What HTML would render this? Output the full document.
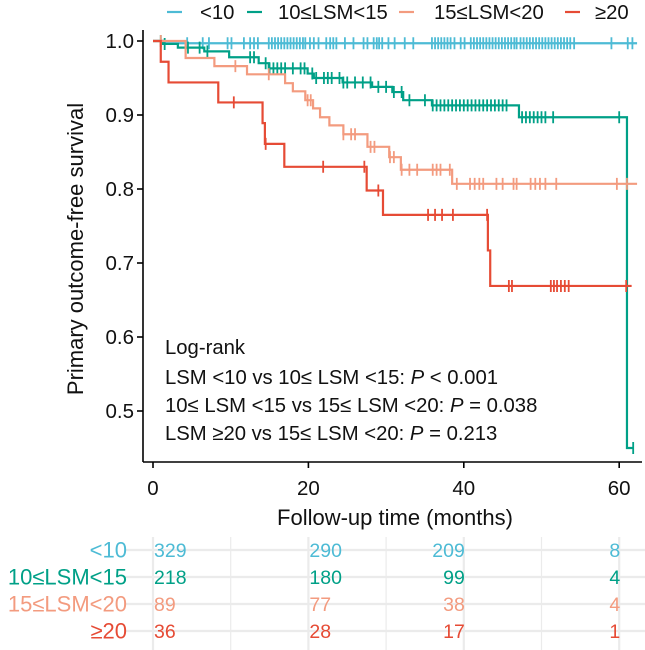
<!DOCTYPE html>
<html><head><meta charset="utf-8">
<style>
html,body{margin:0;padding:0;background:#fff;}
svg{display:block;font-family:"Liberation Sans",Arial,sans-serif;}
</style></head>
<body>
<svg id="chart" width="645" height="650" viewBox="0 0 645 650" xmlns="http://www.w3.org/2000/svg">
</svg>
<script>
// ---- data ----
const groupNames = ["<10", "10≤LSM<15", "15≤LSM<20", "≥20"];
const groupColors = ["#4DBBD5", "#00A087", "#F39B7F", "#E64B35"];
const xTicks = [0, 20, 40, 60];
const yTicks = [0.5, 0.6, 0.7, 0.8, 0.9, 1.0];
const yTickLabels = ["0.5", "0.6", "0.7", "0.8", "0.9", "1.0"];

const blueTimes = [0, 1.5];
const blueSurv = [1.0, 0.997];
const blueEnd = 62.3;
const blueCensor = [4.4,6.4,7.2,9.6,10.1,11.7,12.5,13.0,13.5,14.9,15.3,15.7,16.1,16.5,16.9,17.3,17.7,18.1,18.5,18.9,19.3,19.6,20.2,20.7,21.3,22.3,22.8,23.2,23.6,24.7,25.8,27.1,27.6,28.4,28.8,29.1,29.5,30.3,31.1,32.4,33.5,35.9,36.3,36.7,37.1,37.5,37.9,38.3,38.8,39.6,40.1,40.9,41.3,41.7,42.1,42.5,42.9,43.3,43.7,44.1,44.5,44.9,45.3,45.7,46.1,46.5,46.8,47.3,47.7,48.1,48.5,48.9,49.3,49.7,50.1,50.5,50.9,51.3,51.7,52.1,52.5,52.9,53.3,53.7,54.2,59.0,61.1,61.7];

const greenTimes = [0, 1.3, 3.2, 6.6, 9.8, 13.6, 14.9, 19.9, 20.7, 24.4, 28.2, 30.8, 32.2, 35.9, 47.1, 61.0];
const greenSurv = [1.0, 0.996, 0.991, 0.986, 0.978, 0.970, 0.963, 0.956, 0.950, 0.944, 0.938, 0.931, 0.920, 0.913, 0.897, 0.450];
const greenEnd = 61.8;
const greenCensor = [1.0,1.5,4.5,6.0,7.0,12.5,13.0,14.5,15.0,15.5,16.0,16.5,17.0,18.0,19.0,19.5,20.5,21.0,22.0,22.5,23.0,24.0,24.5,25.0,26.0,27.0,28.0,29.0,30.0,31.0,32.0,33.0,35.0,36.0,36.5,37.0,37.5,38.0,38.5,39.0,39.5,40.0,40.5,41.0,41.5,42.0,42.5,43.0,43.5,44.0,44.5,45.0,45.5,47.5,48.0,48.5,49.0,49.5,50.0,50.5,51.5,60.0,61.8];

const salmonTimes = [0, 4.2, 7.9, 12.1, 17.0, 18.0, 19.6, 20.6, 21.5, 22.7, 24.5, 27.6, 30.4, 31.9, 38.5];
const salmonSurv = [1.0, 0.977, 0.966, 0.955, 0.943, 0.932, 0.920, 0.909, 0.897, 0.886, 0.874, 0.857, 0.843, 0.826, 0.807];
const salmonEnd = 62.3;
const salmonCensor = [1.0,10.6,14.9,19.9,20.3,24.5,25.5,26.0,28.0,28.5,30.5,31.0,32.0,33.0,34.0,36.0,36.5,37.0,38.2,39.1,40.8,41.4,42.0,42.5,44.2,45.0,46.4,46.8,48.6,49.2,49.8,50.5,51.9,59.7,61.0];

const redTimes = [0, 1.0, 2.0, 8.4, 14.1, 14.4, 16.9, 27.5, 29.6, 43.1, 43.4];
const redSurv = [1.0, 0.972, 0.944, 0.917, 0.889, 0.861, 0.830, 0.798, 0.765, 0.717, 0.669];
const redEnd = 61.6;
const redCensor = [10.4,14.5,21.9,27.2,29.0,35.4,36.3,37.2,38.6,43.0,45.8,46.2,51.2,51.6,52.0,52.5,53.0,53.5,60.9];

const riskTimes = [0, 20, 40, 60];
const riskBlue = [329, 290, 209, 8];
const riskGreen = [218, 180, 99, 4];
const riskSalmon = [89, 77, 38, 4];
const riskRed = [36, 28, 17, 1];

// ---- scales ----
const X0 = 153, XPM = 7.77;
function xs(t){ return X0 + XPM * t; }
function ys(s){ return 41 + (1.0 - s) * 740; }

const svg = document.getElementById('chart');
const NS = "http://www.w3.org/2000/svg";
function mk(tag, attrs, parent){
  const e = document.createElementNS(NS, tag);
  for (const k in attrs) e.setAttribute(k, attrs[k]);
  (parent || svg).appendChild(e);
  return e;
}

// risk table grid
const grid = mk('g', {});


[0,10,20,30,40,50,60].forEach(t => {
  const l = mk('line', {x1: xs(t), x2: xs(t), y1: 537, y2: 650, stroke: '#ebebeb', 'stroke-width': (t % 20 === 0) ? 2.2 : 1.2}, grid);
  
  
});
const riskRows = [riskBlue, riskGreen, riskSalmon, riskRed];
const rowY = [550, 577, 604, 631];
rowY.forEach(y => {
  const l = mk('line', {x1: 125, x2: 645, y1: y, y2: y, stroke: '#ebebeb', 'stroke-width': 2.2}, grid);
  
  
});
riskRows.forEach((row, gi) => {
  const lab = mk('text', {x: 127, y: rowY[gi] + 7.5, 'text-anchor': 'end', 'font-size': 22, fill: groupColors[gi]});
  lab.textContent = groupNames[gi];
  
  
  row.forEach((v, ci) => {
    const anchor = ci < 2 ? 'start' : 'end';
    const tx = xs(riskTimes[ci]) + 1;
    const t = mk('text', {x: tx, y: rowY[gi] + 7, 'text-anchor': anchor, 'font-size': 19.5, fill: groupColors[gi]});
    t.textContent = v;
    
    
  });
});

// axes
const axes = mk('g', {stroke: '#000', 'stroke-width': 1.6, fill: 'none'});


const ya = mk('line', {x1: 143, x2: 143, y1: 30, y2: 462}, axes);


const xa = mk('line', {x1: 143, x2: 642, y1: 462, y2: 462}, axes);


yTicks.forEach((v, i) => {
  const tk = mk('line', {x1: 137, x2: 143, y1: ys(v), y2: ys(v)}, axes);
  
  
  const t = mk('text', {x: 134, y: ys(v) + 7, 'text-anchor': 'end', 'font-size': 20.5, fill: '#111'});
  t.textContent = yTickLabels[i];
  
  
});
xTicks.forEach(v => {
  const tk = mk('line', {x1: xs(v), x2: xs(v), y1: 462, y2: 468}, axes);
  
  
  const t = mk('text', {x: xs(v), y: 495, 'text-anchor': 'middle', 'font-size': 20.5, fill: '#111'});
  t.textContent = v;
  
  
});
const xt = mk('text', {x: 395, y: 525, 'text-anchor': 'middle', 'font-size': 22, fill: '#111'});
xt.textContent = 'Follow-up time (months)';


const yt = mk('text', {x: 0, y: 0, 'text-anchor': 'middle', 'font-size': 22, fill: '#111', transform: 'translate(83,249) rotate(-90)'});
yt.textContent = 'Primary outcome-free survival';



// curves
const series = [
  [blueTimes, blueSurv, blueEnd, blueCensor],
  [greenTimes, greenSurv, greenEnd, greenCensor],
  [salmonTimes, salmonSurv, salmonEnd, salmonCensor],
  [redTimes, redSurv, redEnd, redCensor]
];
function survAt(times, surv, t){
  let s = surv[0];
  for (let i = 0; i < times.length; i++) if (times[i] <= t) s = surv[i];
  return s;
}
series.forEach((ser, gi) => {
  const [times, surv, end, cens] = ser;
  let d = 'M' + xs(times[0]) + ',' + ys(surv[0]);
  for (let i = 1; i < times.length; i++) {
    d += ' H' + xs(times[i]) + ' V' + ys(surv[i]);
  }
  d += ' H' + xs(end);
  const p = mk('path', {d: d, fill: 'none', stroke: groupColors[gi], 'stroke-width': 2.2});
  
  
  let cd = '';
  cens.forEach(t => {
    const y = ys(survAt(times, surv, t));
    cd += 'M' + xs(t) + ',' + (y - 6) + ' V' + (y + 6) + ' ';
  });
  const c = mk('path', {d: cd, fill: 'none', stroke: groupColors[gi], 'stroke-width': 1.8});
  
  
});

// log-rank annotation
const notes = [
  ['Log-rank', null, null],
  ['LSM <10 vs 10≤ LSM <15: ', 'P', ' < 0.001'],
  ['10≤ LSM <15 vs 15≤ LSM <20: ', 'P', ' = 0.038'],
  ['LSM ≥20 vs 15≤ LSM <20: ', 'P', ' = 0.213']
];
const noteY = [347, 377, 405, 433];
notes.forEach((n, i) => {
  const t = mk('text', {x: 165, y: noteY[i] + 7, 'font-size': 20.3, fill: '#111'});
  
  
  const a = mk('tspan', {}, t); a.textContent = n[0];
  if (n[1]) {
    const b = mk('tspan', {'font-style': 'italic'}, t); b.textContent = n[1];
    const c = mk('tspan', {}, t); c.textContent = n[2];
  }
});

// legend
const legX = [167, 247, 399, 565];
const legTX = [200, 278, 434, 595];
groupNames.forEach((g, i) => {
  const grp = mk('g', {});
  
  
  mk('line', {x1: legX[i], x2: legX[i] + 15, y1: 12, y2: 12, stroke: groupColors[i], 'stroke-width': 2.2}, grp);
  const t = mk('text', {x: legTX[i], y: 19, 'font-size': 20.3, fill: '#111'}, grp);
  t.textContent = g;
});
</script>
</body></html>
